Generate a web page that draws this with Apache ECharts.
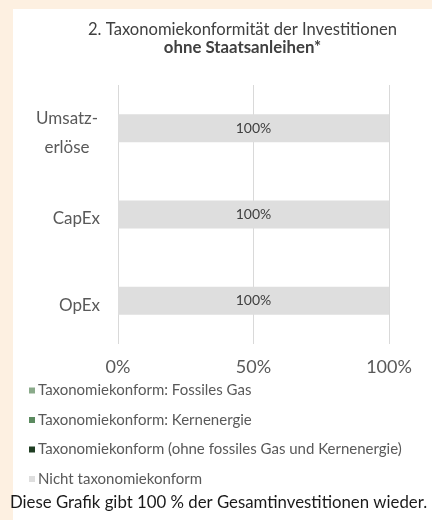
<!DOCTYPE html>
<html><head><meta charset="utf-8">
<script src="https://cdn.jsdelivr.net/npm/echarts@6/dist/echarts.min.js"></script>
<style>
html,body{margin:0;padding:0;background:#fdf0e1;}
#panel{position:absolute;left:13px;top:9px;width:419px;height:511px;background:#fff;}
#c{position:absolute;left:0;top:0;width:432px;height:520px;}
</style></head>
<body><div id="panel"></div><div id="c"></div>
<script>
const categories = ['Umsatz-\nerlöse', 'CapEx', 'OpEx'];
const fossilGas = [0, 0, 0];
const nuclear = [0, 0, 0];
const aligned = [0, 0, 0];
const notAligned = [100, 100, 100];
const seriesNames = ['Taxonomiekonform: Fossiles Gas', 'Taxonomiekonform: Kernenergie', 'Taxonomiekonform (ohne fossiles Gas und Kernenergie)', 'Nicht taxonomiekonform'];
const seriesColors = ['#8aaa8a', '#5b8a5f', '#1f3d22', '#dedede'];
const xTicks = [0, 50, 100];

const FONT = 'Lato';
const chart = echarts.init(document.getElementById('c'), null, {renderer: 'canvas'});
const mk = (i, data) => ({
  name: seriesNames[i], type: 'bar', stack: 'total', data: data, barWidth: 28,
  itemStyle: {color: seriesColors[i]},
  label: i === 3 ? {show: true, position: 'inside', formatter: '{c}%', color: '#404040', fontSize: 14, fontFamily: FONT} : {show: false}
});
chart.setOption({
  backgroundColor: 'transparent',
  animation: false,
  title: {
    text: '2. Taxonomiekonformität der Investitionen',
    subtext: 'ohne Staatsanleihen*',
    left: 242.5, textAlign: 'center', top: 21, itemGap: 1, padding: 0,
    textStyle: {fontFamily: FONT, fontSize: 16.6, fontWeight: 'normal', color: '#404040'},
    subtextStyle: {fontFamily: FONT, fontSize: 16.8, fontWeight: 'bold', color: '#404040'}
  },
  legend: {
    orient: 'vertical', left: 24, top: 378, itemWidth: 6, itemHeight: 6, itemGap: 14.5,
    icon: 'rect', selectedMode: false,
    textStyle: {fontFamily: FONT, fontSize: 15, color: '#595959', lineHeight: 14, padding: [0,0,0,-2]},
    data: seriesNames
  },
  grid: {left: 118, right: 43, top: 85, bottom: 176, containLabel: false},
  xAxis: {
    type: 'value', min: 0, max: 100, interval: 50,
    axisLabel: {formatter: '{value}%', fontFamily: FONT, fontSize: 18, color: '#595959', margin: 14},
    splitLine: {lineStyle: {color: '#d9d9d9', width: 1}},
    axisLine: {show: false}, axisTick: {show: false}
  },
  yAxis: {
    type: 'category', data: categories, inverse: true,
    axisLabel: {
      fontFamily: FONT, fontSize: 17, color: '#595959', margin: 18,
      formatter: function (v) {
        if (v.indexOf('\n') >= 0) { return v.split('\n').map(s => '{c|' + s + '}').join('\n'); }
        return v;
      },
      rich: {c: {fontFamily: FONT, fontSize: 17, color: '#595959', width: 66, align: 'center', lineHeight: 29}},
      padding: [9, 0, 0, 0]
    },
    axisLine: {show: false}, axisTick: {show: false}
  },
  series: [mk(0, fossilGas), mk(1, nuclear), mk(2, aligned), mk(3, notAligned)],
  graphic: [{
    type: 'text', left: 10, top: 494,
    style: {text: 'Diese Grafik gibt 100 % der Gesamtinvestitionen wieder.', fontFamily: FONT, fontSize: 16.8, fill: '#1a1a1a'}
  }]
});
</script></body></html>
